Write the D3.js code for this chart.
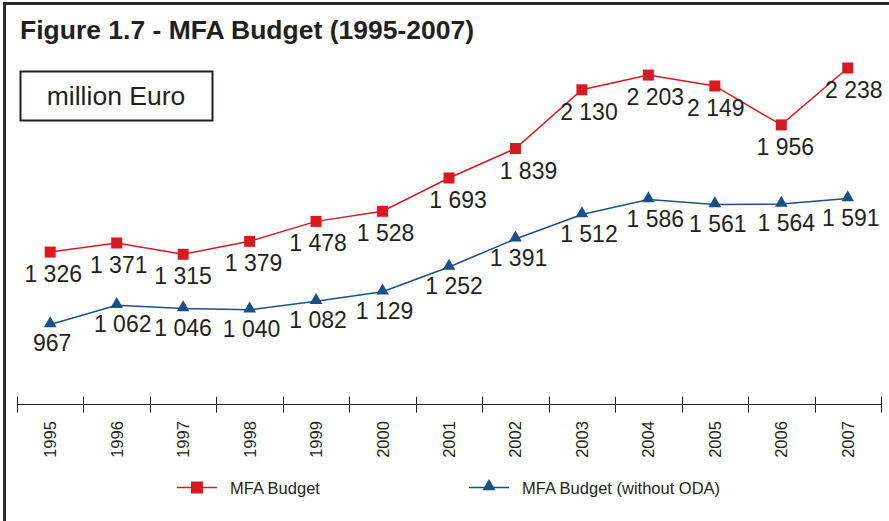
<!DOCTYPE html>
<html>
<head>
<meta charset="utf-8">
<script src="https://cdn.jsdelivr.net/npm/d3@7"></script>
<style>
  body { margin: 0; background: #fff; }
  svg { display: block; font-family: "Liberation Sans", Arial, sans-serif; }
</style>
</head>
<body>
<svg id="chart" width="889" height="521"></svg>
<script>
const years = ['1995','1996','1997','1998','1999','2000','2001','2002','2003','2004','2005','2006','2007']
const mfaBudget = [1326, 1371, 1315, 1379, 1478, 1528, 1693, 1839, 2130, 2203, 2149, 1956, 2238]
const mfaNoOda = [967, 1062, 1046, 1040, 1082, 1129, 1252, 1391, 1512, 1586, 1561, 1564, 1591]
const seriesNames = ['MFA Budget', 'MFA Budget (without ODA)']

// small nudges for the value labels, like in the original
const redDx = [3, 2, 0, 4, 2, 3, 9, 13, 7, 7, 1, 4, 6]
const blueDx = [2, 6, 0, 2, 2, 2, 5, 3, 7, 7, 3, 5, 3]

const width = 889, height = 521
const red = '#d71920', blue = '#1b4f86'

const svg = d3.select('#chart')

// frame (left + top only)
svg.append('path')
  .attr('d', 'M4.5,521V3.5H889')
  .attr('fill', 'none')
  .attr('stroke', '#2b2b2b')
  .attr('stroke-width', 3)

svg.append('text')
  .attr('x', 20).attr('y', 39)
  .attr('font-size', 26.5).attr('font-weight', 'bold')
  .attr('fill', '#231f20')
  .text('Figure 1.7 - MFA Budget (1995-2007)')

svg.append('rect')
  .attr('x', 20.5).attr('y', 71.5).attr('width', 192).attr('height', 49)
  .attr('fill', 'none').attr('stroke', '#231f20').attr('stroke-width', 2)
svg.append('text')
  .attr('x', 116).attr('y', 105)
  .attr('text-anchor', 'middle')
  .attr('font-size', 26.5).attr('fill', '#231f20')
  .text('million Euro')

const x = d3.scaleBand().domain(years).range([17, 881])
const y = d3.scaleLinear().domain([573, 2238]).range([404, 68])
const cx = d => x(d) + x.bandwidth() / 2

// axis: tick lines on band edges
const axisG = svg.append('g').attr('transform', 'translate(0,404.5)')
axisG.append('line')
  .attr('x1', 17).attr('x2', 881)
  .attr('stroke', '#231f20').attr('stroke-width', 1.2)
const edges = years.map(d => x(d)).concat([x.range()[1]])
axisG.selectAll('.tick').data(edges).enter().append('line')
  .attr('x1', d => Math.round(d) + 0.5).attr('x2', d => Math.round(d) + 0.5)
  .attr('y1', -8).attr('y2', 8)
  .attr('stroke', '#231f20').attr('stroke-width', 1)
axisG.selectAll('.yr').data(years).enter().append('text')
  .attr('transform', d => `translate(${cx(d) + 6},${35}) rotate(-90)`)
  .attr('text-anchor', 'middle')
  .attr('font-size', 16.5).attr('fill', '#231f20')
  .text(d => d)

const line = d3.line().x((d, i) => cx(years[i])).y(d => y(d))

function drawSeries(vals, color, marker, dxs, dy) {
  const g = svg.append('g')
  g.append('path').datum(vals)
    .attr('d', line)
    .attr('fill', 'none').attr('stroke', color).attr('stroke-width', 1.5)
  if (marker === 'square') {
    g.selectAll('rect').data(vals).enter().append('rect')
      .attr('x', (d, i) => cx(years[i]) - 5.5).attr('y', d => y(d) - 5.5)
      .attr('width', 11).attr('height', 11).attr('fill', color)
  } else {
    g.selectAll('path.m').data(vals).enter().append('path')
      .attr('class', 'm')
      .attr('d', d3.symbol().type(d3.symbolTriangle).size(70))
      .attr('transform', (d, i) => `translate(${cx(years[i])},${y(d) - 1})`)
      .attr('fill', color)
  }
  g.selectAll('text').data(vals).enter().append('text')
    .attr('x', (d, i) => cx(years[i]) + dxs[i])
    .attr('y', d => y(d) + dy)
    .attr('text-anchor', 'middle')
    .attr('font-size', 23).attr('fill', '#231f20')
    .text(d => d3.format(',')(d).replace(',', ' '))
}

drawSeries(mfaBudget, red, 'square', redDx, 30)
drawSeries(mfaNoOda, blue, 'triangle', blueDx, 27)

// legend
const legend = [
  {name: seriesNames[0], color: red, marker: 'square', x: 177},
  {name: seriesNames[1], color: blue, marker: 'triangle', x: 469}
]
const lg = svg.selectAll('.lg').data(legend).enter().append('g')
  .attr('transform', d => `translate(${d.x},487.5)`)
lg.append('line').attr('x1', 0).attr('x2', 40)
  .attr('stroke', d => d.color).attr('stroke-width', 1.5)
lg.each(function (d) {
  const s = d3.select(this)
  if (d.marker === 'square') {
    s.append('rect').attr('x', 14).attr('y', -6).attr('width', 12).attr('height', 12).attr('fill', d.color)
  } else {
    s.append('path').attr('d', d3.symbol().type(d3.symbolTriangle).size(75))
      .attr('transform', 'translate(20,-1)').attr('fill', d.color)
  }
})
lg.append('text')
  .attr('x', 53).attr('y', 6)
  .attr('font-size', 16.5).attr('fill', '#231f20')
  .text(d => d.name)
</script>
</body>
</html>
